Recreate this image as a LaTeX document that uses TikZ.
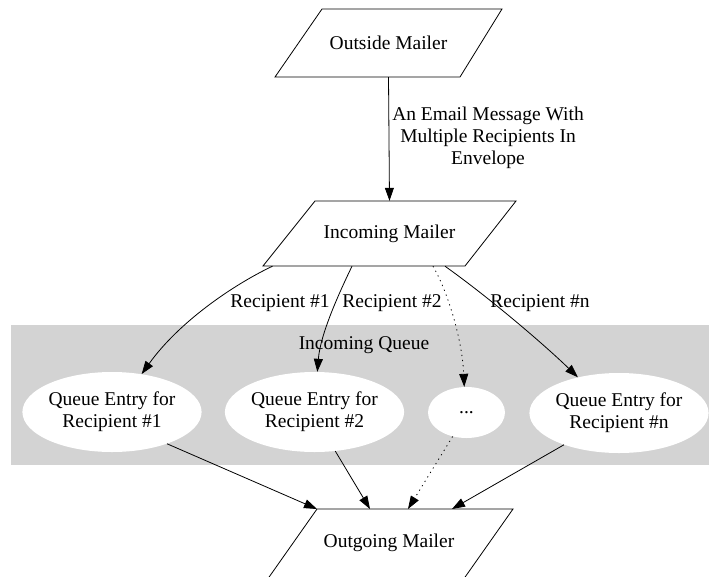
\documentclass[tikz,border=0pt]{standalone}
\usepackage{fontspec}
\setmainfont{Liberation Serif}
\usetikzlibrary{shapes.geometric,arrows.meta}
\definecolor{queuegray}{HTML}{D3D3D3}
\begin{document}
\begin{tikzpicture}[x=1pt,y=-1pt,
  every node/.style={font=\fontsize{19.5}{22}\selectfont},
  mailtext/.style={inner sep=0pt,align=center},
  mailline/.style={draw,line width=0.8pt,line join=miter},
  entry/.style={ellipse,fill=white,inner sep=0pt,align=center,minimum width=175pt,minimum height=80pt},
  lbl/.style={inner sep=0pt,align=center},
  conn/.style={line width=0.8pt,-{Triangle[length=13pt,width=9pt]}},
  dotconn/.style={conn,dash pattern=on 1.2pt off 4pt}
]
\useasboundingbox (0,0) rectangle (709,576);
\clip (0,0) rectangle (709,576);

% queue cluster
\fill[queuegray] (11,325) rectangle (709,465);
\node[lbl] (queue) at (364,345) {Incoming Queue};

% mailers: parallelogram outlines with their text nodes
\draw[mailline] (275,77) -- (322,9) -- (502,9) -- (460,77) -- cycle;
\node[mailtext,minimum width=227pt,minimum height=68pt] (outside) at (388.5,43) {Outside Mailer};

\draw[mailline] (263,266) -- (315,201) -- (516,201) -- (465,266) -- cycle;
\node[mailtext,minimum width=253pt,minimum height=65pt] (incoming) at (389.5,233.5) {Incoming Mailer};

\draw[mailline] (267,580) -- (317,509) -- (513,509) -- (463,580) -- cycle;
\node[mailtext] (outgoing) at (389,543) {Outgoing Mailer};
\coordinate (ogtl) at (317,509);

% queue entries
\node[entry] (q1) at (112,412) {Queue Entry for\\Recipient \#1};
\node[entry] (q2) at (314.5,412) {Queue Entry for\\Recipient \#2};
\node[entry,minimum width=77pt,minimum height=51pt] (dots) at (466.5,412.5) {...};
\node[entry] (qn) at (619,413) {Queue Entry for\\Recipient \#n};

% edge labels
\node[lbl] (msg) at (488,138) {An Email Message With\\Multiple Recipients In\\Envelope};
\node[lbl] (r1) at (280,303) {Recipient \#1};
\node[lbl] (r2) at (392,303) {Recipient \#2};
\node[lbl] (rn) at (540,303) {Recipient \#n};

% connectors
\draw[conn] (outside.south) -- (incoming.north);
\draw[conn] ([xshift=-117pt]incoming.south) .. controls +(-38,18) and +(38,-53) .. (q1.52);
\draw[conn] ([xshift=-37.5pt]incoming.south) .. controls +(-14,29) and +(3,-37) .. (q2.86);
\draw[dotconn] ([xshift=43.5pt]incoming.south) .. controls +(15,26) and +(-2,-47) .. (dots.95);
\draw[conn] ([xshift=55.5pt]incoming.south) .. controls +(45,32) and +(-33,-32) .. (qn.139);

\draw[conn] (q1.-30) -- (ogtl);
\draw[conn] (q2.-62) -- ([xshift=53pt]ogtl);
\draw[dotconn] (dots.-120) -- ([xshift=91pt]ogtl);
\draw[conn] (qn.-150) -- ([xshift=135pt]ogtl);
\end{tikzpicture}
\end{document}
